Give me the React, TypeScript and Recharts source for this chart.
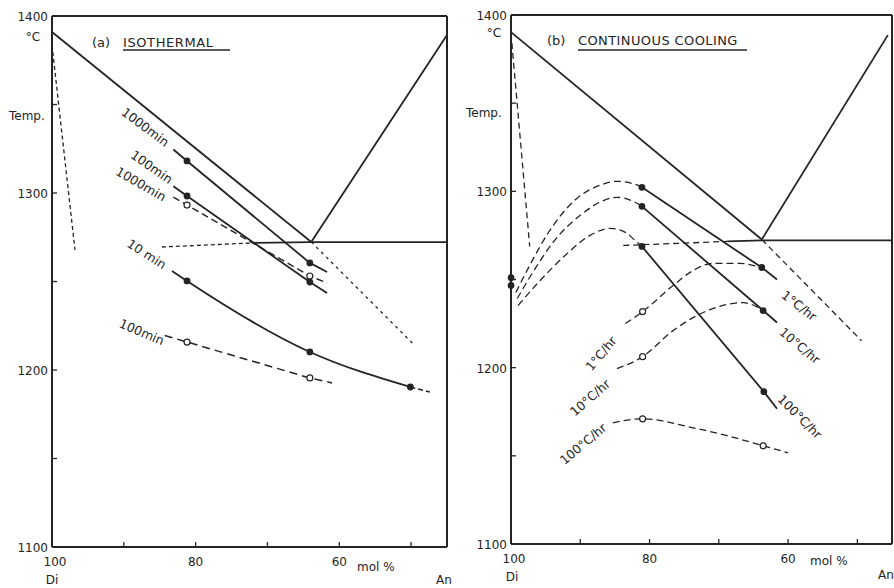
import React from 'react';
import { ComposedChart, Line, XAxis, YAxis, ReferenceDot } from 'recharts';

type Pt = { x: number; t: number; obs?: 'f' | 'o' };

// ---------- (a) ISOTHERMAL ----------
const isoDiLiquidus: Pt[] = [{ x: 100, t: 1391 }, { x: 63.9, t: 1272.3 }];
const isoAnLiquidus: Pt[] = [{ x: 63.9, t: 1272.3 }, { x: 45, t: 1389.3 }];
const isoEutecticSolid: Pt[] = [{ x: 72.0, t: 1271.8 }, { x: 63.9, t: 1272.3 }, { x: 45, t: 1272.3 }];
const isoEutecticDashed: Pt[] = [{ x: 84.7, t: 1269.5 }, { x: 72.0, t: 1271.8 }];
const isoLiquidusExt: Pt[] = [{ x: 63.9, t: 1272.3 }, { x: 49.7, t: 1214.7 }];
const isoSteep: Pt[] = [{ x: 100, t: 1383.6 }, { x: 96.8, t: 1267.8 }];
const iso1000Filled: Pt[] = [{ x: 83.1, t: 1324.6 }, { x: 81.2, t: 1318.1, obs: 'f' }, { x: 64.1, t: 1260.5, obs: 'f' }, { x: 61.7, t: 1255.4 }];
const iso100Filled: Pt[] = [{ x: 83.1, t: 1303.8 }, { x: 81.2, t: 1298.3, obs: 'f' }, { x: 64.1, t: 1249.7, obs: 'f' }, { x: 61.7, t: 1243.5 }];
const iso1000Open: Pt[] = [{ x: 83.1, t: 1297.7 }, { x: 81.2, t: 1293.2, obs: 'o' }, { x: 64.1, t: 1253.1, obs: 'o' }, { x: 61.7, t: 1249.2 }];
const iso10Filled: Pt[] = [{ x: 83.3, t: 1256.0 }, { x: 81.2, t: 1250.3, obs: 'f' }, { x: 64.1, t: 1210.2, obs: 'f' }, { x: 50.1, t: 1190.4, obs: 'f' }];
const iso10Tail: Pt[] = [{ x: 50.1, t: 1190.4 }, { x: 47.4, t: 1187.6 }];
const iso100Open: Pt[] = [{ x: 84.3, t: 1219.5 }, { x: 81.2, t: 1215.8, obs: 'o' }, { x: 64.1, t: 1195.5, obs: 'o' }, { x: 61.0, t: 1192.7 }];

// ---------- (b) CONTINUOUS COOLING ----------
const ccDiLiquidus: Pt[] = [{ x: 100, t: 1390.3 }, { x: 63.8, t: 1272.7 }];
const ccAnLiquidus: Pt[] = [{ x: 63.8, t: 1272.7 }, { x: 45.6, t: 1388.6 }];
const ccEutecticSolid: Pt[] = [{ x: 68.8, t: 1271.6 }, { x: 63.8, t: 1272.2 }, { x: 45, t: 1272.2 }];
const ccEutecticDashed: Pt[] = [{ x: 83.8, t: 1269.3 }, { x: 68.8, t: 1271.6 }];
const ccLiquidusExt: Pt[] = [{ x: 63.8, t: 1272.7 }, { x: 49.4, t: 1215.3 }];
const ccSteep: Pt[] = [{ x: 100, t: 1389.8 }, { x: 97.3, t: 1268.75 }];
const ccAxisPoints: Pt[] = [{ x: 100, t: 1251, obs: 'f' }, { x: 100, t: 1246.6, obs: 'f' }];

const cc1Rise: Pt[] = [
  { x: 99.3, t: 1242.6 }, { x: 97.3, t: 1258.0 }, { x: 94.4, t: 1277.8 }, { x: 90.8, t: 1294.9 },
  { x: 87.2, t: 1303.4 }, { x: 84.7, t: 1305.7 }, { x: 82.1, t: 1304.0 }, { x: 81.1, t: 1302.3 },
];
const cc10Rise: Pt[] = [
  { x: 99.1, t: 1239.2 }, { x: 96.5, t: 1256.3 }, { x: 93.7, t: 1272.2 }, { x: 90.0, t: 1286.4 },
  { x: 87.2, t: 1293.8 }, { x: 84.7, t: 1296.6 }, { x: 82.1, t: 1293.8 }, { x: 81.1, t: 1291.5 },
];
const cc100Rise: Pt[] = [
  { x: 99.0, t: 1235.2 }, { x: 95.8, t: 1249.4 }, { x: 92.2, t: 1263.6 }, { x: 88.6, t: 1275.0 },
  { x: 85.7, t: 1279.0 }, { x: 83.5, t: 1276.7 }, { x: 82.1, t: 1272.2 }, { x: 81.1, t: 1268.75 },
];
const cc1Solid: Pt[] = [{ x: 81.1, t: 1302.3, obs: 'f' }, { x: 63.8, t: 1256.8, obs: 'f' }, { x: 61.6, t: 1250.0 }];
const cc10Solid: Pt[] = [{ x: 81.1, t: 1291.5, obs: 'f' }, { x: 63.6, t: 1232.4, obs: 'f' }, { x: 61.6, t: 1225.6 }];
const cc100Solid: Pt[] = [{ x: 81.1, t: 1268.75, obs: 'f' }, { x: 63.5, t: 1186.4, obs: 'f' }, { x: 61.6, t: 1176.7 }];
const cc1Open: Pt[] = [
  { x: 83.5, t: 1225.0 }, { x: 81.0, t: 1231.8, obs: 'o' }, { x: 76.6, t: 1246.6 }, { x: 73.7, t: 1255.1 },
  { x: 70.9, t: 1259.1 }, { x: 67.0, t: 1259.1 }, { x: 63.8, t: 1256.8 },
];
const cc10Open: Pt[] = [
  { x: 84.7, t: 1199.4 }, { x: 81.0, t: 1206.25, obs: 'o' }, { x: 76.6, t: 1221.0 }, { x: 73.7, t: 1228.4 },
  { x: 70.9, t: 1233.5 }, { x: 66.5, t: 1236.9 }, { x: 63.6, t: 1232.4 },
];
const cc100Open: Pt[] = [
  { x: 85.3, t: 1168.75 }, { x: 81.0, t: 1171.0, obs: 'o' }, { x: 73.7, t: 1165.9 }, { x: 68.8, t: 1161.4 },
  { x: 63.6, t: 1155.7, obs: 'o' }, { x: 60.0, t: 1151.7 },
];

// ---------- axes ----------
const xTicks = [100, 90, 80, 70, 60, 50];
const xTickLabels = [100, 80, 60];
const yTicks = [1100, 1150, 1200, 1250, 1300, 1350, 1400];
const yTickLabels = [1100, 1200, 1300, 1400];

type Lbl = { text: string; x: number; t: number; angle: number };
const isoLabels: Lbl[] = [
  { text: '1000min', x: 87.0, t: 1337.3, angle: 37 },
  { text: '100min', x: 86.1, t: 1314.7, angle: 35 },
  { text: '1000min', x: 87.6, t: 1305.1, angle: 30 },
  { text: '10 min', x: 86.8, t: 1265.5, angle: 33 },
  { text: '100min', x: 87.5, t: 1221.5, angle: 23 },
];
const ccLabels: Lbl[] = [
  { text: '1°C/hr', x: 58.4, t: 1235.2, angle: 38 },
  { text: '10°C/hr', x: 58.3, t: 1212.5, angle: 40 },
  { text: '100°C/hr', x: 58.3, t: 1172.2, angle: 45 },
  { text: '1°C/hr', x: 87.0, t: 1208.0, angle: -50 },
  { text: '10°C/hr', x: 88.6, t: 1183.0, angle: -41 },
  { text: '100°C/hr', x: 89.6, t: 1156.8, angle: -40 },
];

const INK = '#242424';
const FONT = '"DejaVu Sans", sans-serif';

type Series = { data: Pt[]; dash?: string; curve?: 'linear' | 'monotone'; w?: number; noLine?: boolean };

const isoSeries: Series[] = [
  { data: isoDiLiquidus }, { data: isoAnLiquidus }, { data: isoEutecticSolid },
  { data: isoEutecticDashed, dash: '4 3', w: 1.3 },
  { data: isoLiquidusExt, dash: '3 4', w: 1.3 },
  { data: isoSteep, dash: '4 3', w: 1.3 },
  { data: iso1000Filled }, { data: iso100Filled },
  { data: iso1000Open, dash: '7 4', w: 1.5 },
  { data: iso10Filled, curve: 'monotone' },
  { data: iso10Tail, dash: '5 3', w: 1.5 },
  { data: iso100Open, dash: '8 5', w: 1.5 },
];

const ccSeries: Series[] = [
  { data: ccDiLiquidus }, { data: ccAnLiquidus }, { data: ccEutecticSolid },
  { data: ccEutecticDashed, dash: '6 4', w: 1.3 },
  { data: ccLiquidusExt, dash: '6 4', w: 1.3 },
  { data: ccSteep, dash: '6 4', w: 1.3 },
  { data: ccAxisPoints, noLine: true },
  { data: cc1Rise, dash: '7 4', curve: 'monotone', w: 1.3 },
  { data: cc10Rise, dash: '7 4', curve: 'monotone', w: 1.3 },
  { data: cc100Rise, dash: '7 4', curve: 'monotone', w: 1.3 },
  { data: cc1Solid }, { data: cc10Solid }, { data: cc100Solid },
  { data: cc1Open, dash: '7 4', curve: 'monotone', w: 1.3 },
  { data: cc10Open, dash: '7 4', curve: 'monotone', w: 1.3 },
  { data: cc100Open, dash: '7 4', curve: 'monotone', w: 1.3 },
];

const renderDot = (props: any) => {
  const { cx, cy, payload, index } = props;
  const k = `d-${index}-${cx}-${cy}`;
  if (!payload || !payload.obs) return <g key={k} />;
  if (payload.obs === 'f') return <circle key={k} cx={cx} cy={cy} r={3.4} fill={INK} stroke="none" />;
  return <circle key={k} cx={cx} cy={cy} r={3} fill="#fff" stroke={INK} strokeWidth={1.2} />;
};

const LeftTick = (props: any) => {
  const { x, y, payload } = props;
  const v = payload.value;
  return (
    <g>
      <line x1={x} x2={x + 5} y1={y} y2={y} stroke={INK} strokeWidth={1.3} />
      {yTickLabels.includes(v) && (
        <text x={x - 4} y={y + 1} textAnchor="end" dominantBaseline="central" fontSize={12} fontFamily={FONT} fill={INK}>
          {v}
        </text>
      )}
    </g>
  );
};
const RightTick = (props: any) => {
  const { x, y } = props;
  return <line x1={x} x2={x - 5} y1={y} y2={y} stroke={INK} strokeWidth={1.3} />;
};
const TopTick = (props: any) => {
  const { x, y } = props;
  return <line x1={x} x2={x} y1={y} y2={y + 5} stroke={INK} strokeWidth={1.3} />;
};
const BottomTick = (props: any) => {
  const { x, y, payload } = props;
  const v = payload.value;
  return (
    <g>
      <line x1={x} x2={x} y1={y} y2={y - 5} stroke={INK} strokeWidth={1.3} />
      {xTickLabels.includes(v) && (
        <text x={v === 100 ? x + 3 : x} y={y + 15} textAnchor="middle" dominantBaseline="central" fontSize={12} fontFamily={FONT} fill={INK}>
          {v}
        </text>
      )}
    </g>
  );
};

const makeLabel = (l: Lbl) => (p: any) => {
  const vb = p.viewBox || {};
  const cx = (vb.x ?? 0) + (vb.width ?? 0) / 2;
  const cy = (vb.y ?? 0) + (vb.height ?? 0) / 2;
  return (
    <text
      x={cx}
      y={cy}
      textAnchor="middle"
      dominantBaseline="central"
      fontSize={12.5}
      fontFamily={FONT}
      fill={INK}
      transform={`rotate(${l.angle}, ${cx}, ${cy})`}
    >
      {l.text}
    </text>
  );
};

const axisLineStyle = { stroke: INK, strokeWidth: 2 };

function Panel({ series, labels, width, height, margin }: { series: Series[]; labels: Lbl[]; width: number; height: number; margin: any }) {
  return (
    <ComposedChart width={width} height={height} margin={margin}>
      <XAxis xAxisId="b" type="number" dataKey="x" domain={[45, 100]} reversed ticks={xTicks}
        height={1} tickSize={0} tickMargin={0} tickLine={false} axisLine={axisLineStyle} tick={<BottomTick />} interval={0} />
      <XAxis xAxisId="t" orientation="top" type="number" dataKey="x" domain={[45, 100]} reversed ticks={xTicks.slice(1)}
        height={1} tickSize={0} tickMargin={0} tickLine={false} axisLine={axisLineStyle} tick={<TopTick />} interval={0} />
      <YAxis yAxisId="l" type="number" dataKey="t" domain={[1100, 1400]} ticks={yTicks}
        width={1} tickSize={0} tickMargin={0} tickLine={false} axisLine={axisLineStyle} tick={<LeftTick />} interval={0} />
      <YAxis yAxisId="r" orientation="right" type="number" domain={[1100, 1400]} ticks={yTicks.slice(1, -1)}
        width={1} tickSize={0} tickMargin={0} tickLine={false} axisLine={axisLineStyle} tick={<RightTick />} interval={0} />
      {series.map((s, i) => (
        <Line
          key={i}
          xAxisId="b"
          yAxisId="l"
          data={s.data}
          dataKey="t"
          type={s.curve || 'linear'}
          stroke={s.noLine ? 'none' : INK}
          strokeWidth={s.w ?? 1.8}
          strokeDasharray={s.dash}
          dot={renderDot}
          activeDot={false}
          isAnimationActive={false}
          legendType="none"
        />
      ))}
      {labels.map((l, i) => (
        <ReferenceDot key={`l${i}`} xAxisId="b" yAxisId="l" x={l.x} y={l.t} r={1} fill="none" stroke="none" ifOverflow="visible"
          label={{ content: makeLabel(l) }} />
      ))}
    </ComposedChart>
  );
}

const txt = { fontFamily: FONT, fill: INK } as const;

export default function App() {
  return (
    <div style={{ position: 'absolute', left: 0, top: 0, width: 894, height: 588, background: '#fff', overflow: 'hidden' }}>
      <div style={{ position: 'absolute', left: 0, top: 0 }}>
        <Panel series={isoSeries} labels={isoLabels} width={460} height={588} margin={{ top: 15, left: 51, right: 12, bottom: 40 }} />
      </div>
      <div style={{ position: 'absolute', left: 460, top: 0 }}>
        <Panel series={ccSeries} labels={ccLabels} width={434} height={588} margin={{ top: 14, left: 50, right: 1, bottom: 43 }} />
      </div>
      <svg width={894} height={588} style={{ position: 'absolute', left: 0, top: 0, pointerEvents: 'none' }}>
        {/* panel a */}
        <text x={33} y={37} textAnchor="middle" dominantBaseline="central" fontSize={12} {...txt}>°C</text>
        <text x={9} y={116} dominantBaseline="central" fontSize={12} {...txt}>Temp.</text>
        <text x={92} y={42} dominantBaseline="central" fontSize={13} {...txt}>(a)</text>
        <text x={123} y={42} dominantBaseline="central" fontSize={13} letterSpacing={0.6} {...txt}>ISOTHERMAL</text>
        <line x1={123} x2={230} y1={50} y2={50} stroke={INK} strokeWidth={1.5} />
        <text x={52} y={580} textAnchor="middle" dominantBaseline="central" fontSize={12} {...txt}>Di</text>
        <text x={357} y={567} dominantBaseline="central" fontSize={12} {...txt}>mol %</text>
        <text x={444} y={580} textAnchor="middle" dominantBaseline="central" fontSize={12} {...txt}>An</text>
        {/* panel b */}
        <text x={494} y={33} textAnchor="middle" dominantBaseline="central" fontSize={12} {...txt}>°C</text>
        <text x={466} y={113} dominantBaseline="central" fontSize={12} {...txt}>Temp.</text>
        <text x={547} y={40} dominantBaseline="central" fontSize={13} {...txt}>(b)</text>
        <text x={578} y={40} dominantBaseline="central" fontSize={13} letterSpacing={0.4} {...txt}>CONTINUOUS COOLING</text>
        <line x1={578} x2={747} y1={50} y2={50} stroke={INK} strokeWidth={1.5} />
        <text x={512} y={577} textAnchor="middle" dominantBaseline="central" fontSize={12} {...txt}>Di</text>
        <text x={810} y={561} dominantBaseline="central" fontSize={12} {...txt}>mol %</text>
        <text x={886} y={575} textAnchor="middle" dominantBaseline="central" fontSize={12} {...txt}>An</text>
      </svg>
    </div>
  );
}
